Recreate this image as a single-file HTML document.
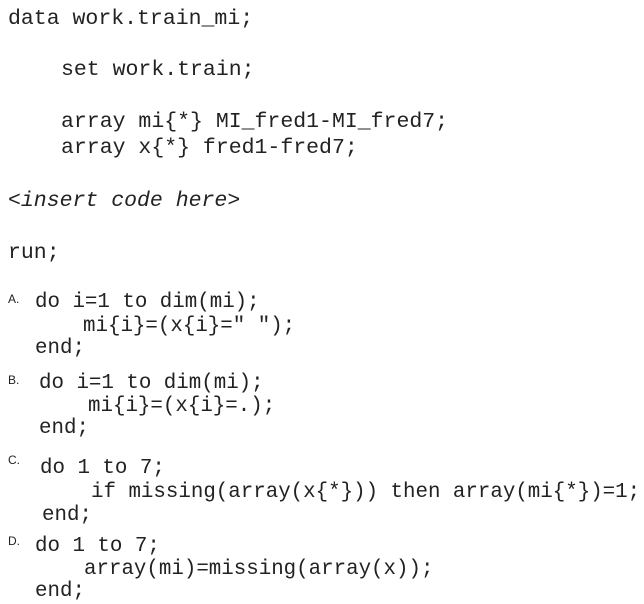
<!DOCTYPE html>
<html><head><meta charset="utf-8"><style>
body{margin:0;width:644px;height:603px;background:#fff;position:relative;overflow:hidden}
.l{position:absolute;font-family:"Liberation Mono",monospace;font-size:21.5px;line-height:24px;color:#222;white-space:pre}
.s{font-size:20.8px}
.k{position:absolute;font-family:"Liberation Sans",sans-serif;font-size:12px;line-height:14px;color:#222}
</style></head><body>
<div class="l" style="left:8px;top:7px">data work.train_mi;</div>
<div class="l" style="left:61px;top:58px">set work.train;</div>
<div class="l" style="left:61px;top:110px">array mi{*} MI_fred1-MI_fred7;</div>
<div class="l" style="left:61px;top:136px">array x{*} fred1-fred7;</div>
<div class="l" style="left:8px;top:189px;font-style:italic">&lt;insert code here&gt;</div>
<div class="l" style="left:8px;top:241px">run;</div>

<div class="k" style="left:8px;top:292px">A.</div>
<div class="l s" style="left:35px;top:291px">do i=1 to dim(mi);</div>
<div class="l s" style="left:83px;top:315px">mi{i}=(x{i}=" ");</div>
<div class="l s" style="left:35px;top:337px">end;</div>

<div class="k" style="left:8px;top:373px">B.</div>
<div class="l s" style="left:39px;top:372px">do i=1 to dim(mi);</div>
<div class="l s" style="left:88px;top:395px">mi{i}=(x{i}=.);</div>
<div class="l s" style="left:39px;top:417px">end;</div>

<div class="k" style="left:8px;top:453px">C.</div>
<div class="l s" style="left:40px;top:457px">do 1 to 7;</div>
<div class="l s" style="left:91px;top:481px">if missing(array(x{*})) then array(mi{*})=1;</div>
<div class="l s" style="left:42px;top:504px">end;</div>

<div class="k" style="left:8px;top:534px">D.</div>
<div class="l s" style="left:35px;top:535px">do 1 to 7;</div>
<div class="l s" style="left:84px;top:558px">array(mi)=missing(array(x));</div>
<div class="l s" style="left:35px;top:580px">end;</div>
</body></html>
